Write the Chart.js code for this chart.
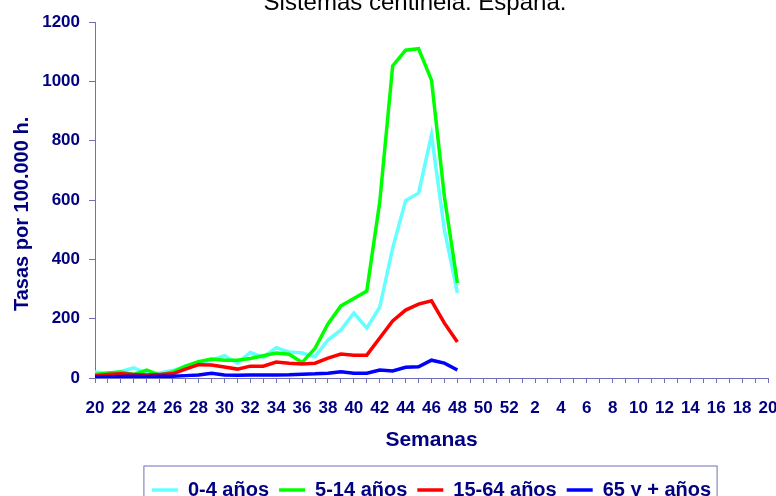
<!DOCTYPE html>
<html lang="es">
<head>
<meta charset="UTF-8">
<title>Sistemas centinela. España.</title>
<style>
    html, body { margin: 0; padding: 0; background: #fff; overflow: hidden; }
    .caixa { position: relative; width: 776px; height: 496px; overflow: hidden; }
    .caixa canvas { position: absolute; left: 0; top: -20px; }
</style>
</head>
<body>
<div class="caixa">
    <canvas id="grafico" width="776" height="530" style="width:776px;height:530px"></canvas>
</div>
<script src="https://cdn.jsdelivr.net/npm/chart.js"></script>
<script>
    // semanas 20..52 y 1..20
    var semanas = [20, 21, 22, 23, 24, 25, 26, 27, 28, 29, 30, 31, 32, 33, 34, 35, 36, 37, 38, 39, 40,
        41, 42, 43, 44, 45, 46, 47, 48, 49, 50, 51, 52, 1, 2, 3, 4, 5, 6, 7, 8, 9, 10,
        11, 12, 13, 14, 15, 16, 17, 18, 19, 20];

    // tasas semana 20 a 48
    var tasa0a4 = [20, 15, 22, 34, 15, 17, 25, 40, 54, 60, 75, 50, 86, 70, 102, 88, 84, 72, 128, 162,
        219, 168, 239, 438, 598, 623, 819, 499, 287];
    var tasa5a14 = [12, 17, 20, 12, 27, 10, 20, 40, 55, 64, 60, 60, 66, 75, 84, 80, 52, 100, 182, 243,
        268, 293, 593, 1052, 1105, 1110, 1004, 610, 320];
    var tasa15a64 = [8, 12, 14, 12, 10, 12, 14, 30, 45, 44, 37, 30, 40, 40, 54, 50, 47, 50, 67, 81,
        77, 77, 135, 192, 229, 249, 260, 185, 121];
    var tasa65 = [3, 4, 5, 6, 5, 6, 6, 8, 10, 16, 10, 9, 10, 10, 10, 11, 13, 14, 16, 21,
        16, 16, 27, 24, 36, 38, 60, 50, 27];

    var nomesSeries = ['0-4 años', '5-14 años', '15-64 años', '65 y + años'];
    var coresSeries = ['#66ffff', '#00ff00', '#ff0000', '#0000ff'];

    var azulTexto = '#000080';
    var corEixo = '#7070b8';
    var fonte = '"Liberation Sans", Arial, sans-serif';

    function completar(valores) {
        var res = valores.slice();
        while (res.length < semanas.length) res.push(null);
        return res;
    }

    var todas = [tasa0a4, tasa5a14, tasa15a64, tasa65];
    var datasets = [];
    for (let i = 0; i < todas.length; i++) {
        datasets.push({
            label: nomesSeries[i],
            data: completar(todas[i]),
            borderColor: coresSeries[i],
            backgroundColor: coresSeries[i],
            borderWidth: 3.5,
            pointRadius: 0,
            tension: 0,
            order: 4 - i
        });
    }

    // titulo cortado arriba, como en la imagen original
    const tituloCortado = {
        id: 'tituloCortado',
        afterDraw(chart) {
            const ctx = chart.ctx;
            ctx.save();
            ctx.font = '24px ' + fonte;
            ctx.fillStyle = '#000';
            ctx.textAlign = 'center';
            ctx.textBaseline = 'alphabetic';
            ctx.fillText('Sistemas centinela. España.', 415, 30);
            ctx.restore();
        }
    };

    // recuadro de la leyenda
    const caixaLegenda = {
        id: 'caixaLegenda',
        afterDraw(chart) {
            const caixas = chart.legend.legendHitBoxes;
            if (!caixas || !caixas.length) return;
            let esq = Infinity, dir = -Infinity, topo = Infinity;
            caixas.forEach(function (c) {
                esq = Math.min(esq, c.left);
                dir = Math.max(dir, c.left + c.width);
                topo = Math.min(topo, c.top);
            });
            const ctx = chart.ctx;
            ctx.save();
            ctx.strokeStyle = corEixo;
            ctx.lineWidth = 1;
            ctx.strokeRect(esq - 8, topo - 14, dir - esq + 14, 60);
            ctx.restore();
        }
    };

    const grafico = document.getElementById('grafico');

    new Chart(grafico, {
        type: 'line',
        data: {
            labels: semanas,
            datasets: datasets
        },
        options: {
            responsive: false,
            animation: false,
            layout: {
                padding: { top: 42, right: 8, left: 0, bottom: 0 }
            },
            scales: {
                x: {
                    offset: false,
                    afterFit: function (escala) {
                        escala.height = 92;
                        escala.paddingLeft = 0;
                        escala.paddingRight = 8;
                    },
                    border: { display: true, color: corEixo, width: 1 },
                    grid: {
                        display: true,
                        drawOnChartArea: false,
                        drawTicks: true,
                        tickLength: 5,
                        color: corEixo,
                        tickColor: corEixo
                    },
                    ticks: {
                        autoSkip: false,
                        maxRotation: 0,
                        minRotation: 0,
                        padding: 15,
                        color: azulTexto,
                        font: { family: fonte, size: 17, weight: 'bold' },
                        callback: function (valor, i) {
                            return i % 2 === 0 ? String(semanas[i]) : '';
                        }
                    },
                    title: {
                        display: true,
                        text: 'Semanas',
                        color: azulTexto,
                        font: { family: fonte, size: 21, weight: 'bold' },
                        padding: { top: 4, bottom: 17 }
                    }
                },
                y: {
                    min: 0,
                    max: 1200,
                    afterFit: function (escala) { escala.width = 95; },
                    border: { display: true, color: corEixo, width: 1 },
                    grid: {
                        display: true,
                        drawOnChartArea: false,
                        drawTicks: true,
                        tickLength: 6,
                        color: corEixo,
                        tickColor: corEixo
                    },
                    ticks: {
                        stepSize: 200,
                        padding: 9,
                        color: azulTexto,
                        font: { family: fonte, size: 17, weight: 'bold' },
                        callback: function (valor) { return String(valor); }
                    },
                    title: {
                        display: true,
                        text: 'Tasas por 100.000 h.     ',
                        color: azulTexto,
                        font: { family: fonte, size: 20, weight: 'bold' },
                        padding: { top: 10, bottom: 0 }
                    }
                }
            },
            plugins: {
                legend: {
                    position: 'bottom',
                    fullSize: false,
                    labels: {
                        usePointStyle: true,
                        pointStyle: 'line',
                        pointStyleWidth: 26,
                        padding: 10,
                        color: azulTexto,
                        font: { family: fonte, size: 20, weight: 'bold' },
                        sort: function (a, b) { return a.datasetIndex - b.datasetIndex; }
                    }
                },
                tooltip: { enabled: false }
            }
        },
        plugins: [tituloCortado, caixaLegenda]
    });
</script>
</body>
</html>
